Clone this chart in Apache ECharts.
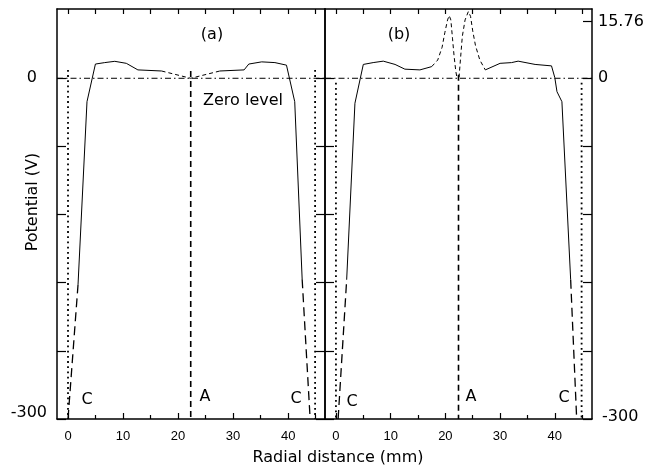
<!DOCTYPE html>
<html>
<head>
<meta charset="utf-8">
<script src="https://cdn.jsdelivr.net/npm/echarts@6/dist/echarts.min.js"></script>
<style>
html,body{margin:0;padding:0;background:#fff;}
#chart{width:652px;height:468px;}
</style>
</head>
<body>
<div id="chart"></div>
<script>
// ---------- data (x in mm, potential in V) ----------
const xMajorTicks = [0, 10, 20, 30, 40];
const xMinorTicks = [5, 15, 25, 35, 45];
const xAllTicks = [0, 5, 10, 15, 20, 25, 30, 35, 40, 45];
const yTicks = [-300, -240, -180, -120, -60, 0];
const yLabelsLeft = [-300, 0];
const ionizationLevel = 15.76;

// panel (a)
const aSolidLeft = [[1.82,-181.8],[3.45,-20.6],[4.98,3.9],[6.67,4.3],[8.5,4.65],[10.6,4.1],[12.7,2.3],[17.0,2.0]];
const aDashCenter = [[17.0,2.0],[22.3,0.0],[27.6,2.0]];
const aSolidRight = [[27.6,2.0],[32.0,2.3],[32.85,3.9],[35.2,4.5],[37.6,4.3],[39.7,3.6],[41.2,-20.6],[42.55,-177]];
const aCathodeLeft = [[0.0,-300],[1.82,-181.8]];
const aCathodeRight = [[42.55,-177],[44.0,-300]];
const aDottedLeft = [[0,2.3],[0,-300]];
const aDottedRight = [[44.9,2.3],[44.9,-300]];
const aAnode = [[22.3,2],[22.3,-300]];

// panel (b)
const bSolidLeft = [[1.96,-177.4],[3.47,-22],[5.0,3.8],[6.8,4.3],[8.65,4.7],[10.8,3.8],[12.6,2.5],[15.35,2.3],[17.5,3.2]];
const bDashPeaks = [[17.5,3.2],[18.6,5],[19.4,8.5],[19.9,12.5],[20.4,16],[20.7,17.2],[21.0,16],[21.3,11],[21.6,6],[21.9,2],[22.1,0.3],[22.3,0.2],[22.5,0.3],[22.8,6],[23.1,11.5],[23.6,16],[24.2,18.3],[24.6,17],[25.0,13],[25.5,9],[26.3,5],[27.3,2.3]];
const bSolidRight = [[27.3,2.3],[30.0,4.1],[32.1,4.3],[33.3,4.7],[36.4,3.8],[39.4,3.4],[40.0,0.2],[40.4,-11.8],[41.3,-20.6],[42.9,-177.4]];
const bCathodeLeft = [[0.4,-300],[1.96,-177.4]];
const bCathodeRight = [[42.9,-177.4],[44.0,-300]];
const bDottedLeft = [[0,-4],[0,-300]];
const bDottedRight = [[44.9,-4],[44.9,-300]];
const bAnode = [[22.4,1],[22.4,-300]];

const zeroLine = [[-2,0],[47,0]];

// ---------- broken scale: positive region is expanded ----------
const UPPER_TOP_V = 19.0;     // volts at top of frame
const UPPER_TOP_Y = 61;       // axis units at top of frame
const UP = UPPER_TOP_Y / UPPER_TOP_V;
const tv = v => (v >= 0 ? v * UP : v);
const tf = pts => pts.map(p => [p[0], tv(p[1])]);
const inv = y => (y > 0 ? (y / UP) : y);

const FONT = 'DejaVu Sans';
const black = '#000';

function line(data, xi, yi, ls) {
  return {
    type: 'line', data: tf(data), xAxisIndex: xi, yAxisIndex: yi,
    symbol: 'none', silent: true, animation: false,
    lineStyle: Object.assign({color: black, width: 1}, ls)
  };
}
const solid = {type: 'solid', width: 1};
const thinDash = {type: [4, 3], width: 1};
const cathDash = {type: [9, 5], width: 1.3};
const anodeDash = {type: [6, 4], width: 1.6};
const dotted = {type: [1.8, 3.4], width: 1.8};
const dashDot = {type: [6, 3, 1.5, 3], width: 1};

const GW = [268, 267];
const GH = 410;
const grids = [
  {left: 57, top: 9, width: GW[0], height: GH},
  {left: 325, top: 9, width: GW[1], height: GH}
];
const xMax = [46.7, 46.8];

function tick(len, vals) {
  return {show: true, length: len, customValues: vals, lineStyle: {color: black, width: 1.2}};
}
const frameLine = {show: true, onZero: false, lineStyle: {color: black, width: 1.5}};
const noLine = {show: false, onZero: false};

const xAxes = [];
const yAxes = [];
const X0 = [], Y0 = [];
[0, 1].forEach(g => {
  X0.push(xAxes.length);
  const base = {type: 'value', gridIndex: g, min: -2, max: xMax[g], splitLine: {show: false}};
  // bottom frame edge + labels
  xAxes.push(Object.assign({}, base, {
    position: 'bottom', axisLine: frameLine, axisTick: {show: false},
    axisLabel: {show: true, customValues: xMajorTicks, margin: 11, color: black, fontFamily: 'Liberation Sans', fontSize: 13}
  }));
  // top frame edge
  xAxes.push(Object.assign({}, base, {position: 'top', axisLine: frameLine, axisTick: {show: false}, axisLabel: {show: false}}));
  // inward ticks on the bottom edge (a top-side axis moved down onto the bottom edge)
  xAxes.push(Object.assign({}, base, {position: 'top', offset: -GH, axisLine: noLine, axisTick: tick(6, xMajorTicks), axisLabel: {show: false}}));
  xAxes.push(Object.assign({}, base, {position: 'top', offset: -GH, axisLine: noLine, axisTick: tick(4, xMinorTicks), axisLabel: {show: false}}));
  // inward ticks on the top edge
  xAxes.push(Object.assign({}, base, {position: 'bottom', offset: -GH, axisLine: noLine, axisTick: tick(5, xAllTicks), axisLabel: {show: false}}));

  Y0.push(yAxes.length);
  const ybase = {type: 'value', gridIndex: g, min: -300, max: UPPER_TOP_Y, splitLine: {show: false}};
  // left frame edge (+ labels for panel a)
  yAxes.push(Object.assign({}, ybase, {
    position: 'left', axisLine: frameLine, axisTick: {show: false},
    axisLabel: g === 0 ? {
      show: true, customValues: yLabelsLeft.map(tv), margin: 10, color: black, fontFamily: FONT, fontSize: 16,
      formatter: v => (Math.abs(v) < 1e-6 ? '{z|0}' : '{n|' + inv(v) + '}'),
      rich: {z: {padding: [0, 10, 0, 0], fontFamily: FONT, fontSize: 16, color: black},
             n: {padding: [0, 0, 12, 0], fontFamily: FONT, fontSize: 16, color: black}}
    } : {show: false}
  }));
  // right frame edge (+ labels for panel b)
  yAxes.push(Object.assign({}, ybase, {
    position: 'right', axisLine: frameLine, axisTick: {show: false},
    axisLabel: g === 1 ? {
      show: true, customValues: [-300, 0, tv(ionizationLevel)], margin: 6, color: black, fontFamily: FONT, fontSize: 16,
      formatter: v => (v > 1 ? '{u|' + ionizationLevel.toFixed(2) + '}' : (v < -1 ? '{n|' + v + '}' : '0')),
      rich: {u: {padding: [3, 0, 0, 0], fontFamily: FONT, fontSize: 16, color: black},
             n: {padding: [0, 0, 4, 4], fontFamily: FONT, fontSize: 16, color: black}}
    } : {show: false}
  }));
  // inward ticks on the left edge (a right-side axis moved onto the left edge)
  yAxes.push(Object.assign({}, ybase, {position: 'right', offset: -GW[g], axisLine: noLine, axisTick: tick(9, yTicks), axisLabel: {show: false}}));
  // inward ticks on the right edge
  const rt = g === 1 ? yTicks.concat([tv(ionizationLevel)]) : yTicks;
  yAxes.push(Object.assign({}, ybase, {position: 'left', offset: -GW[g], axisLine: noLine, axisTick: tick(9, rt), axisLabel: {show: false}}));
});

const series = [
  // panel (a)
  line(zeroLine, X0[0], Y0[0], dashDot),
  line(aDottedLeft, X0[0], Y0[0], dotted),
  line(aDottedRight, X0[0], Y0[0], dotted),
  line(aAnode, X0[0], Y0[0], anodeDash),
  line(aCathodeLeft, X0[0], Y0[0], cathDash),
  line(aCathodeRight, X0[0], Y0[0], cathDash),
  line(aSolidLeft, X0[0], Y0[0], solid),
  line(aDashCenter, X0[0], Y0[0], thinDash),
  line(aSolidRight, X0[0], Y0[0], solid),
  // panel (b)
  line(zeroLine, X0[1], Y0[1], dashDot),
  line(bDottedLeft, X0[1], Y0[1], dotted),
  line(bDottedRight, X0[1], Y0[1], dotted),
  line(bAnode, X0[1], Y0[1], anodeDash),
  line(bCathodeLeft, X0[1], Y0[1], cathDash),
  line(bCathodeRight, X0[1], Y0[1], cathDash),
  line(bSolidLeft, X0[1], Y0[1], solid),
  line(bDashPeaks, X0[1], Y0[1], thinDash),
  line(bSolidRight, X0[1], Y0[1], solid)
];

function txt(s, x, y, extra) {
  return Object.assign({
    type: 'text', x: x, y: y, silent: true,
    style: {text: s, fill: black, font: '16px "' + FONT + '"', align: 'center', verticalAlign: 'middle'}
  }, extra || {});
}

const graphics = [
  txt('(a)', 212, 35),
  txt('(b)', 399, 35),
  txt('Zero level', 243, 101),
  txt('C', 87, 400), txt('C', 296, 399),
  txt('C', 352, 402), txt('C', 564, 398),
  txt('A', 205, 397), txt('A', 471, 397),
  txt('Radial distance (mm)', 338, 458),
  txt('Potential (V)', 33, 202, {rotation: Math.PI / 2})
];

const chart = echarts.init(document.getElementById('chart'), null, {renderer: 'canvas'});
chart.setOption({
  animation: false,
  backgroundColor: '#fff',
  grid: grids,
  xAxis: xAxes,
  yAxis: yAxes,
  series: series,
  graphic: graphics
});
</script>
</body>
</html>
